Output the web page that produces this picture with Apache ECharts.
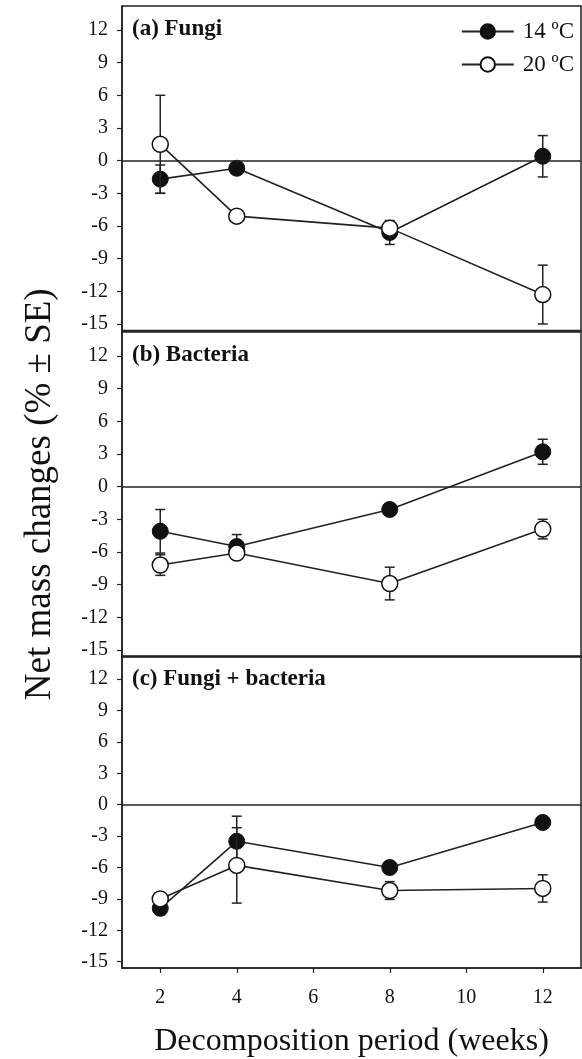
<!DOCTYPE html>
<html><head><meta charset="utf-8">
<script src="https://cdn.jsdelivr.net/npm/echarts@6/dist/echarts.min.js"></script>
<style>html,body{margin:0;padding:0;background:#fff}#c{width:582px;height:1059px}</style>
</head><body><div id="c"></div>
<script>
const weeks = [2, 4, 8, 12];
const yTicks = [-15, -12, -9, -6, -3, 0, 3, 6, 9, 12];
const xTicks = [2, 4, 6, 8, 10, 12];
const panelTitles = ['(a) Fungi', '(b) Bacteria', '(c) Fungi + bacteria'];
const seriesNames = ['14 ºC', '20 ºC'];
// means
const fungi14 = [-1.7, -0.7, -6.6, 0.4];
const fungi20 = [1.5, -5.1, -6.2, -12.3];
const bact14 = [-4.1, -5.5, -2.1, 3.2];
const bact20 = [-7.2, -6.1, -8.9, -3.9];
const both14 = [-9.9, -3.5, -6.0, -1.7];
const both20 = [-9.0, -5.8, -8.2, -8.0];
// standard errors
const fungi14se = [1.3, 0.2, 1.1, 1.9];
const fungi20se = [4.5, 0.2, 0.5, 2.7];
const bact14se = [2.0, 1.1, 0.2, 1.15];
const bact20se = [0.95, 0.3, 1.5, 0.9];
const both14se = [0.6, 2.4, 0.2, 0.2];
const both20se = [0.3, 3.6, 0.85, 1.3];

const panels = [
  [fungi14, fungi14se, fungi20, fungi20se],
  [bact14, bact14se, bact20, bact20se],
  [both14, both14se, both20, both20se]
];

const FONT = '"Liberation Serif", "DejaVu Serif", serif';
const INK = '#222';
const gridTops = [6, 332, 656];
const gridH = 324.5;
const yMin = -15.6, yMax = 14.2;

const grids = [], xAxes = [], yAxes = [], series = [];

function errSeries(i, means, ses, z) {
  return {
    type: 'custom', xAxisIndex: i, yAxisIndex: i, z: z, silent: true,
    data: weeks.map((w, k) => [w, means[k] - ses[k], means[k] + ses[k]]),
    renderItem: function (params, api) {
      const x = api.value(0);
      const lo = api.coord([x, api.value(1)]);
      const hi = api.coord([x, api.value(2)]);
      const cw = 5;
      const st = { stroke: INK, lineWidth: 1.5 };
      return { type: 'group', children: [
        { type: 'line', shape: { x1: lo[0], y1: lo[1], x2: hi[0], y2: hi[1] }, style: st },
        { type: 'line', shape: { x1: lo[0] - cw, y1: lo[1], x2: lo[0] + cw, y2: lo[1] }, style: st },
        { type: 'line', shape: { x1: hi[0] - cw, y1: hi[1], x2: hi[0] + cw, y2: hi[1] }, style: st }
      ]};
    }
  };
}

panels.forEach((p, i) => {
  grids.push({ left: 122, right: 1, top: gridTops[i], height: gridH, show: true, borderColor: INK, borderWidth: 1.5, backgroundColor: 'transparent' });
  const last = i === 2;
  xAxes.push({
    type: 'value', gridIndex: i, min: 1, max: 13,
    axisLine: { show: true, onZero: false, lineStyle: { color: INK, width: 1.5 } },
    axisTick: { show: last, inside: false, length: 5, customValues: xTicks, lineStyle: { color: INK, width: 1.2 } },
    axisLabel: { show: last, customValues: xTicks, margin: 20, fontFamily: FONT, fontSize: 20, color: '#111' },
    splitLine: { show: false },
    name: last ? 'Decomposition period (weeks)' : '',
    nameLocation: 'middle', nameGap: 58,
    nameTextStyle: { fontFamily: FONT, fontSize: 32, color: '#111' }
  });
  yAxes.push({
    type: 'value', gridIndex: i, min: yMin, max: yMax,
    axisLine: { show: true, onZero: false, lineStyle: { color: INK, width: 1.5 } },
    axisTick: { show: true, inside: false, length: 5, customValues: yTicks, lineStyle: { color: INK, width: 1.2 } },
    axisLabel: { show: true, customValues: yTicks, margin: 14, fontFamily: FONT, fontSize: 20, color: '#111' },
    splitLine: { show: false },
    name: i === 1 ? 'Net mass changes (% ± SE)' : '',
    nameLocation: 'middle', nameGap: 63, nameRotate: 90,
    nameTextStyle: { fontFamily: FONT, fontSize: 37, color: '#111' }
  });
  series.push(errSeries(i, p[0], p[1], 2));
  series.push(errSeries(i, p[2], p[3], 4));
  series.push({
    name: seriesNames[0], type: 'line', xAxisIndex: i, yAxisIndex: i, z: 3,
    data: weeks.map((w, k) => [w, p[0][k]]),
    symbol: 'circle', symbolSize: 16,
    lineStyle: { color: INK, width: 1.6 },
    itemStyle: { color: '#111', borderColor: '#111', borderWidth: 1 },
    emphasis: { disabled: true }, animation: false,
    markLine: { silent: true, symbol: 'none', label: { show: false },
      lineStyle: { color: INK, width: 1.5, type: 'solid' }, data: [{ yAxis: 0 }] }
  });
  series.push({
    name: seriesNames[1], type: 'line', xAxisIndex: i, yAxisIndex: i, z: 5,
    data: weeks.map((w, k) => [w, p[2][k]]),
    symbol: 'circle', symbolSize: 16, showAllSymbol: true,
    lineStyle: { color: INK, width: 1.6 },
    itemStyle: { color: '#fff', borderColor: '#111', borderWidth: 1.5 },
    emphasis: { disabled: true }, animation: false
  });
});

const graphics = panelTitles.map((t, i) => ({
  type: 'text', left: 132, top: gridTops[i] + 12,
  style: { text: t, fontFamily: FONT, fontSize: 23, fontWeight: 'bold', fill: '#111' }
}));

const chart = echarts.init(document.getElementById('c'), null, { renderer: 'canvas' });
chart.setOption({
  animation: false,
  backgroundColor: '#fff',
  grid: grids, xAxis: xAxes, yAxis: yAxes, series: series,
  legend: {
    data: seriesNames,
    orient: 'vertical', right: 3, top: 15, itemGap: 10,
    itemWidth: 52, itemHeight: 18,
    textStyle: { fontFamily: FONT, fontSize: 23, color: '#111', padding: [0, 0, 0, 4] },
    selectedMode: false
  },
  graphic: graphics
});
</script>
</body></html>
